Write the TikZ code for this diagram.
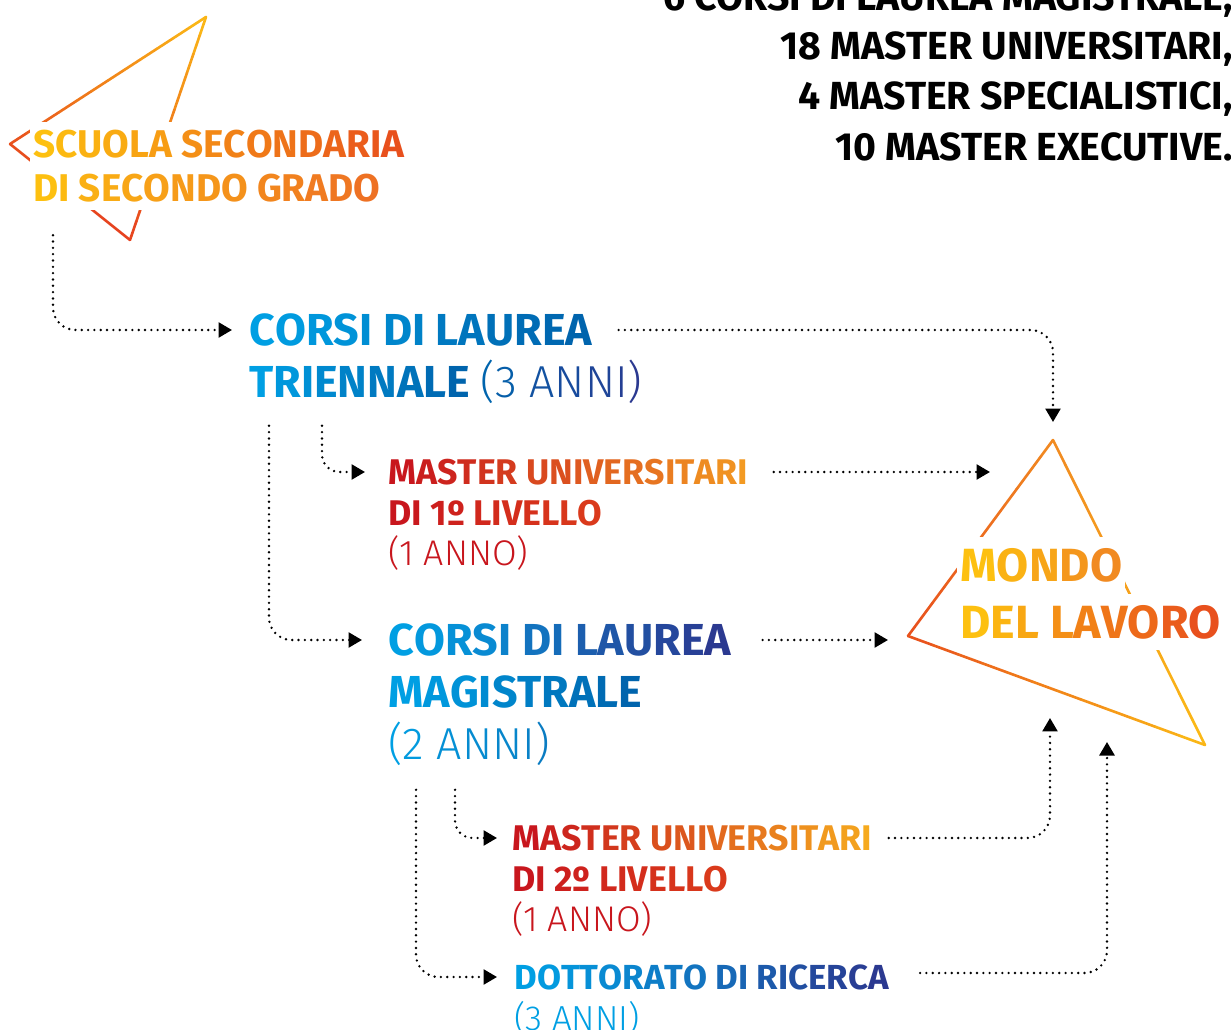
\documentclass[tikz,border=0pt]{standalone}
\usepackage{fontspec}
\setmainfont{Fira Sans}
\IfFontExistsTF{Fira Sans Light}
  {\newfontfamily\lightfam{Fira Sans Light}}
  {\newcommand\lightfam{}}
\newcommand\lightfont{\lightfam\mdseries}
\usetikzlibrary{arrows.meta,calc}

\definecolor{sunyellow}{HTML}{FDC010}
\definecolor{sunorange}{HTML}{F18A21}
\definecolor{sunamber}{HTML}{EE7123}
\definecolor{sunred}{HTML}{E8501D}
\definecolor{deepred}{HTML}{C8161D}
\definecolor{brickred}{HTML}{DA3A1C}
\definecolor{mastorange}{HTML}{F39A22}
\definecolor{mastyellow}{HTML}{F6AA1E}
\definecolor{skyblue}{HTML}{009FE3}
\definecolor{seablue}{HTML}{0A7CC2}
\definecolor{midblue}{HTML}{0064AD}
\definecolor{navyblue}{HTML}{2B3990}
\definecolor{triyellow}{HTML}{FBBA16}
\definecolor{triorange}{HTML}{F18A21}
\definecolor{trired}{HTML}{E6411F}

% colour every letter between two colours
\def\gradspace{\ }
\ExplSyntaxOn
\int_new:N \l__grad_i_int
\int_new:N \l__grad_n_int
\tl_new:N \l__grad_p_tl
\tl_new:N \l__grad_t_tl
\NewDocumentCommand \gradtext { m m m }
  {
    \tl_set:Nn \l__grad_t_tl {#3}
    \tl_replace_all:Nnn \l__grad_t_tl { ~ } { { \gradspace } }
    \int_set:Nn \l__grad_n_int { \int_max:nn { \tl_count:N \l__grad_t_tl - 1 } { 1 } }
    \int_zero:N \l__grad_i_int
    \tl_map_inline:Nn \l__grad_t_tl
      {
        \tl_set:Nx \l__grad_p_tl { \int_eval:n { 100 * \l__grad_i_int / \l__grad_n_int } }
        \textcolor { #2 ! \l__grad_p_tl ! #1 } { ##1 }
        \int_incr:N \l__grad_i_int
      }
  }
\ExplSyntaxOff

% one side of a triangle, shaded in small steps
\newcommand\gradline[4]{%
  \foreach \k in {0,...,11}{
    \pgfmathsetmacro\mixpct{100-(\k+0.5)*100/12}
    \draw[line width=1.5pt, line cap=round, #3!\mixpct!#4]
      ($(#1)!\k/12!(#2)$) -- ($(#1)!\k/12+1/12!(#2)$);
  }}

\tikzset{
  lbl/.style={anchor=west, inner sep=0pt, text depth=0pt},
  offer/.style={lbl, anchor=east, font=\fontsize{22.3}{26}\selectfont\bfseries, text height=15.4pt},
  start/.style={lbl, font=\fontsize{22}{26}\selectfont\bfseries, text height=15.2pt,
                fill=white, inner xsep=0.06cm, inner ysep=0.17cm},
  course/.style={lbl, font=\fontsize{25.5}{30}\selectfont\bfseries, text height=17.6pt},
  master/.style={lbl, font=\fontsize{20.3}{24}\selectfont\bfseries, text height=14pt},
  phd/.style={lbl, font=\fontsize{19.8}{24}\selectfont\bfseries, text height=13.7pt},
  work/.style={lbl, font=\fontsize{26.5}{31}\selectfont\bfseries, text height=18.3pt,
               fill=white, inner xsep=0.06cm, inner ysep=0.24cm},
  link/.style={line width=1.5pt, line cap=round, dash pattern=on 0pt off 3.6pt,
               rounded corners=0.45cm, -{Triangle[length=0.27cm,width=0.3cm]}}
}

\begin{document}
\begin{tikzpicture}[x=0.02cm, y=-0.02cm]
    \useasboundingbox (0,0) rectangle (1231,1030);

    % triangles
    \coordinate (sL) at (10,144);
    \coordinate (sT) at (206,17);
    \coordinate (sB) at (130,240);
    \coordinate (tA) at (1053,440);
    \coordinate (tL) at (908,636);
    \coordinate (tR) at (1205,745);
    \gradline{sL}{sT}{sunred}{triyellow}
    \gradline{sT}{sB}{triyellow}{trired}
    \gradline{sL}{sB}{sunred}{trired}
    \gradline{tA}{tL}{triorange}{sunred}
    \gradline{tA}{tR}{triorange}{triyellow}
    \gradline{tL}{tR}{sunred}{triyellow}

    % offer
    \node[offer] (offer1) at (1233,-3)  {6 CORSI DI LAUREA MAGISTRALE,};
    \node[offer] (offer2) at (1233,46)  {18 MASTER UNIVERSITARI,};
    \node[offer] (offer3) at (1233,96)  {4 MASTER SPECIALISTICI,};
    \node[offer] (offer4) at (1233,147) {10 MASTER EXECUTIVE.};

    % steps
    \node[start] (scuola1) at (30,144) {\gradtext{sunyellow}{sunred}{SCUOLA SECONDARIA}};
    \node[start] (scuola2) at (30,188) {\gradtext{sunyellow}{sunamber}{DI SECONDO GRADO}};

    \node[course] (tri1) at (249,330) {\gradtext{skyblue}{midblue}{CORSI DI LAUREA}};
    \node[course] (tri2) at (249,382) {\gradtext{skyblue}{midblue}{TRIENNALE}\ {\lightfont\gradtext{midblue}{navyblue}{(3 ANNI)}}};

    \node[master] (m1a) at (388,472) {\gradtext{deepred}{mastorange}{MASTER UNIVERSITARI}};
    \node[master] (m1b) at (388,513) {\gradtext{deepred}{brickred}{DI 1º LIVELLO}};
    \node[master] (m1c) at (388,553) {\lightfont\color{deepred}(1 ANNO)};

    \node[course] (mag1) at (388,640) {\gradtext{skyblue}{navyblue}{CORSI DI LAUREA}};
    \node[course] (mag2) at (388,692) {\gradtext{skyblue}{midblue}{MAGISTRALE}};
    \node[course] (mag3) at (388,744) {\lightfont\gradtext{skyblue}{seablue}{(2 ANNI)}};

    \node[master] (m2a) at (512,838) {\gradtext{deepred}{mastyellow}{MASTER UNIVERSITARI}};
    \node[master] (m2b) at (512,879) {\gradtext{deepred}{brickred}{DI 2º LIVELLO}};
    \node[master] (m2c) at (512,919) {\lightfont\color{deepred}(1 ANNO)};

    \node[phd] (dot1) at (514,977)  {\gradtext{skyblue}{navyblue}{DOTTORATO DI RICERCA}};
    \node[phd] (dot2) at (514,1018) {\lightfont\color{skyblue}(3 ANNI)};

    \node[work] (mondo1) at (957,565) {\gradtext{sunyellow}{sunorange}{MONDO}};
    \node[work] (mondo2) at (957,622) {\gradtext{sunyellow}{sunred}{DEL LAVORO}};

    % arrow ends below the triangle
    \coordinate (in1) at (990,476);
    \coordinate (in2) at (1050,718);
    \coordinate (in3) at (1107,742);

    \draw[link, shorten >=0.34cm] ($(scuola2.south west)+(23,25)$) |- (tri1.west);
    \draw[link, shorten >=0.36cm] ($(tri1.east)+(26,0)$) -| (tA);
    \draw[link, shorten >=0.46cm, rounded corners=0.35cm] ($(tri2.south west)+(73,28)$) |- (m1a.west);
    \draw[link, shorten >=0.52cm] ($(tri2.south west)+(20,28)$) |- (mag1.west);
    \draw[link, shorten <=0.5cm] (m1a.east) -- (m1a.east -| in1);
    \draw[link, shorten <=0.62cm, shorten >=0.4cm] (mag1.east) -- (mag1.east -| tL);
    \draw[link, shorten >=0.3cm, rounded corners=0.35cm] ($(mag3.south west)+(67,30)$) |- (m2a.west);
    \draw[link, shorten >=0.34cm] ($(mag3.south west)+(28,30)$) |- (dot1.west);
    \draw[link] ($(m2a.east)+(16,0)$) -| (in2);
    \draw[link] ($(dot1.east)+(31,-4)$) -| (in3);

\end{tikzpicture}
\end{document}
